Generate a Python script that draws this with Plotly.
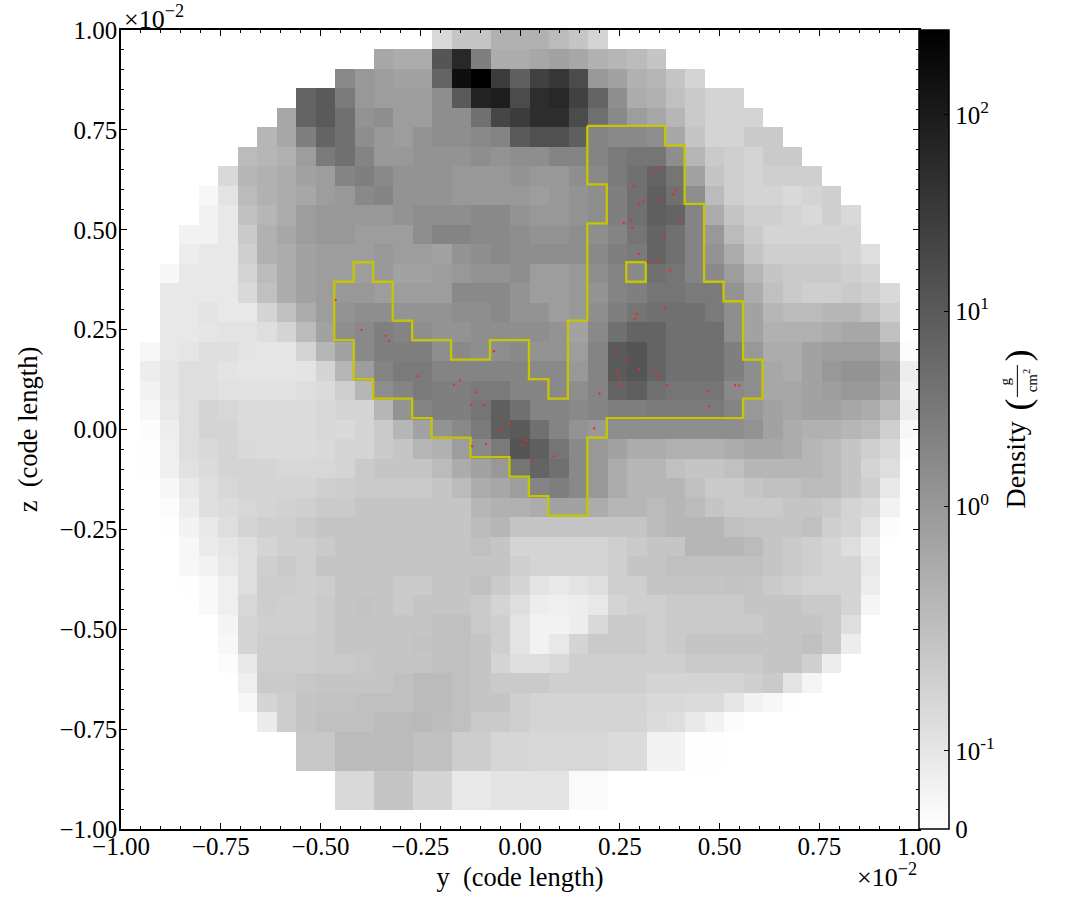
import numpy as np
import plotly.graph_objects as go

# Slice through the cell grid: 41 x 41 cells, row 0 at the top.
n_cells = 41
row_start = [16, 13, 11, 9, 8, 7, 6, 5, 4, 3, 3, 2, 2, 2, 1, 1, 1, 1, 1, 0, 0, 0, 0, 0, 0, 0,
             1, 2, 2, 2, 3, 3, 4, 5, 6, 7, 9, 9, 11, 11]
row_grey = [
    [210, 190, 190, 170, 170, 170, 180, 190, 205],
    [160, 165, 165, 85, 40, 120, 165, 165, 160, 155, 160, 170, 175, 180, 190],
    [130, 145, 150, 155, 155, 100, 15, 0, 60, 95, 65, 55, 75, 145, 155, 170, 175, 190, 205],
    [100, 90, 115, 145, 150, 150, 150, 135, 90, 35, 30, 75, 45, 40, 65, 100, 135, 165, 170, 185, 195, 205, 205],
    [160, 100, 90, 105, 140, 135, 150, 150, 135, 135, 105, 70, 60, 45, 45, 75, 105, 130, 150, 160, 175, 195, 205, 205, 205],
    [175, 160, 120, 100, 105, 135, 145, 150, 140, 135, 135, 130, 125, 90, 80, 80, 95, 125, 130, 130, 135, 160, 190, 205, 205, 195, 195],
    [180, 175, 170, 150, 115, 105, 125, 145, 145, 140, 140, 140, 135, 140, 135, 135, 125, 125, 125, 115, 110, 110, 135, 175, 195, 200, 205, 195, 195],
    [210, 175, 170, 165, 155, 150, 125, 120, 130, 140, 140, 140, 145, 145, 145, 140, 145, 145, 135, 130, 115, 105, 100, 110, 155, 190, 200, 205, 200, 200, 200],
    [240, 220, 180, 170, 165, 160, 150, 145, 130, 125, 140, 140, 140, 145, 145, 145, 145, 150, 145, 140, 135, 120, 105, 95, 105, 135, 180, 200, 205, 205, 210, 205, 200],
    [250, 235, 225, 185, 175, 165, 150, 145, 145, 145, 145, 140, 135, 135, 135, 130, 130, 140, 145, 145, 140, 135, 120, 105, 95, 100, 125, 165, 190, 200, 200, 205, 210, 200, 210],
    [235, 235, 225, 195, 170, 160, 150, 145, 145, 150, 150, 150, 135, 125, 125, 130, 130, 135, 140, 140, 135, 135, 125, 110, 100, 105, 125, 145, 180, 195, 205, 205, 205, 205, 205],
    [252, 230, 225, 225, 200, 170, 165, 155, 150, 150, 150, 145, 150, 150, 155, 140, 135, 130, 135, 135, 135, 135, 130, 120, 115, 100, 105, 125, 140, 165, 190, 200, 200, 200, 200, 205, 215],
    [240, 225, 225, 225, 205, 180, 165, 155, 150, 150, 150, 145, 155, 155, 150, 145, 140, 140, 135, 150, 150, 145, 135, 125, 130, 105, 110, 125, 130, 150, 175, 190, 195, 195, 195, 200, 205],
    [225, 225, 225, 225, 210, 185, 165, 155, 150, 145, 145, 150, 150, 150, 150, 130, 130, 130, 140, 150, 150, 145, 140, 125, 120, 110, 110, 115, 115, 140, 165, 185, 195, 200, 200, 195, 200, 210],
    [250, 225, 225, 220, 225, 225, 205, 185, 165, 150, 140, 135, 135, 140, 140, 140, 135, 135, 130, 140, 140, 150, 145, 135, 120, 110, 105, 105, 105, 115, 135, 155, 175, 180, 180, 175, 175, 185, 200],
    [248, 225, 225, 222, 220, 220, 215, 205, 180, 155, 135, 130, 120, 125, 135, 140, 140, 135, 135, 135, 135, 140, 155, 130, 105, 100, 100, 105, 105, 105, 135, 155, 170, 170, 170, 165, 160, 160, 185],
    [240, 225, 222, 215, 215, 220, 222, 222, 205, 175, 155, 130, 120, 120, 120, 135, 130, 135, 135, 130, 140, 140, 150, 125, 90, 85, 100, 105, 105, 105, 120, 145, 165, 165, 155, 150, 150, 150, 165, 245],
    [230, 222, 215, 215, 220, 222, 222, 222, 220, 205, 175, 150, 125, 115, 115, 125, 125, 125, 125, 125, 130, 130, 145, 125, 90, 85, 100, 105, 105, 105, 120, 135, 160, 165, 155, 145, 140, 140, 155, 230],
    [235, 222, 215, 215, 218, 218, 218, 218, 215, 212, 200, 175, 135, 125, 115, 120, 120, 115, 115, 125, 125, 130, 135, 125, 100, 95, 105, 110, 110, 110, 130, 135, 160, 160, 155, 150, 145, 145, 160, 235],
    [252, 240, 225, 215, 205, 208, 212, 212, 212, 212, 208, 205, 205, 175, 140, 125, 120, 120, 110, 95, 105, 125, 125, 130, 125, 120, 120, 115, 115, 115, 115, 125, 145, 155, 160, 155, 155, 160, 165, 180, 230],
    [252, 245, 230, 215, 205, 205, 212, 212, 212, 212, 208, 210, 205, 195, 175, 155, 140, 130, 115, 95, 90, 105, 125, 140, 145, 135, 135, 135, 135, 135, 135, 135, 140, 155, 165, 170, 170, 175, 180, 200, 240],
    [252, 247, 232, 215, 210, 205, 210, 212, 212, 212, 210, 205, 205, 195, 190, 175, 170, 150, 130, 115, 85, 95, 110, 130, 145, 155, 165, 165, 170, 170, 170, 165, 160, 160, 165, 175, 180, 190, 200, 210, 245],
    [252, 247, 232, 218, 212, 205, 205, 205, 208, 208, 208, 205, 195, 190, 190, 190, 180, 165, 155, 145, 110, 100, 105, 130, 145, 165, 175, 175, 185, 190, 190, 185, 175, 175, 175, 175, 180, 190, 205, 215, 252],
    [255, 250, 240, 225, 215, 208, 205, 205, 205, 205, 200, 198, 195, 195, 195, 195, 190, 180, 165, 160, 150, 125, 120, 130, 145, 165, 175, 175, 175, 185, 195, 195, 190, 185, 185, 180, 180, 190, 200, 225, 252],
    [255, 252, 245, 230, 215, 212, 208, 205, 202, 200, 195, 195, 190, 190, 190, 190, 190, 190, 175, 170, 170, 165, 155, 155, 165, 175, 175, 180, 175, 180, 190, 195, 195, 195, 190, 190, 195, 205, 210, 235, 253],
    [255, 253, 247, 235, 225, 215, 205, 200, 200, 195, 190, 190, 190, 190, 190, 190, 190, 190, 180, 175, 190, 190, 190, 190, 190, 190, 190, 180, 175, 175, 175, 185, 190, 190, 190, 185, 200, 205, 220, 245, 254],
    [254, 250, 240, 228, 222, 215, 205, 200, 200, 195, 190, 190, 190, 190, 190, 190, 190, 185, 190, 205, 205, 205, 205, 205, 200, 195, 190, 190, 175, 175, 175, 180, 190, 195, 200, 205, 215, 230, 252],
    [252, 240, 235, 225, 215, 200, 195, 200, 190, 190, 190, 190, 190, 190, 190, 190, 190, 190, 200, 205, 205, 205, 205, 200, 190, 190, 185, 185, 185, 185, 185, 190, 195, 200, 205, 205, 225, 250],
    [252, 247, 242, 232, 215, 198, 198, 200, 198, 190, 190, 190, 195, 195, 190, 190, 185, 195, 205, 220, 225, 220, 215, 200, 200, 190, 190, 190, 190, 188, 190, 195, 200, 205, 205, 205, 230],
    [254, 250, 242, 232, 208, 198, 200, 200, 195, 190, 188, 190, 195, 190, 190, 190, 195, 205, 215, 230, 232, 230, 225, 205, 200, 200, 195, 195, 195, 195, 190, 190, 190, 195, 195, 205, 238],
    [252, 250, 237, 205, 200, 200, 200, 195, 190, 190, 190, 190, 190, 185, 185, 195, 200, 220, 235, 235, 230, 210, 195, 195, 200, 195, 195, 195, 195, 195, 190, 190, 190, 195, 215],
    [253, 250, 240, 205, 198, 198, 198, 195, 190, 190, 190, 190, 188, 185, 185, 190, 200, 220, 235, 225, 205, 195, 195, 195, 200, 195, 190, 190, 190, 190, 190, 190, 185, 195, 230],
    [252, 245, 225, 198, 198, 198, 195, 195, 192, 190, 190, 190, 185, 185, 190, 205, 215, 215, 210, 200, 200, 200, 200, 200, 200, 195, 195, 195, 195, 190, 190, 200, 230],
    [250, 232, 195, 195, 192, 190, 190, 190, 190, 185, 180, 180, 185, 190, 195, 195, 195, 200, 200, 200, 200, 200, 205, 205, 205, 205, 205, 200, 195, 220, 238],
    [240, 205, 198, 190, 188, 188, 185, 185, 185, 180, 180, 185, 190, 190, 200, 205, 205, 205, 205, 205, 205, 210, 210, 212, 212, 222, 235, 240, 247],
    [228, 198, 190, 185, 185, 185, 180, 180, 178, 182, 185, 195, 195, 200, 205, 205, 205, 205, 205, 205, 212, 215, 225, 235, 245, 248, 250],
    [192, 192, 180, 180, 180, 180, 185, 185, 198, 198, 207, 207, 208, 208, 208, 208, 212, 212, 235, 235, 247, 247, 252, 252],
    [192, 192, 180, 180, 180, 180, 185, 185, 198, 198, 207, 207, 208, 208, 208, 208, 212, 212, 235, 235, 247, 247, 252, 252],
    [210, 210, 190, 190, 205, 205, 225, 225, 221, 221, 220, 220, 243, 243, 248, 248, 253, 253],
    [210, 210, 190, 190, 205, 205, 225, 225, 221, 221, 220, 220, 243, 243, 248, 248, 253, 253],
]

# Clump outline: filled column spans (first, last) per row
clump_spans = {
    5: [(24, 27)], 6: [(24, 28)], 7: [(24, 28)], 8: [(25, 28)], 9: [(25, 29)],
    10: [(24, 29)], 11: [(24, 29)], 12: [(12, 12), (24, 25), (27, 29)],
    13: [(11, 13), (24, 30)], 14: [(11, 13), (24, 31)],
    15: [(11, 14), (23, 31)], 16: [(12, 16), (19, 20), (23, 31)],
    17: [(12, 20), (23, 32)], 18: [(13, 21), (23, 32)], 19: [(15, 31)],
    20: [(16, 24)], 21: [(18, 23)], 22: [(20, 23)], 23: [(21, 23)], 24: [(22, 23)],
}

# Particles, in units of 1e-2 code length
particle_y = [0.349, 0.334, 0.284, 0.390, 0.384, 0.352, 0.309, 0.298, 0.278, 0.405, 0.260, 0.281,
              0.363, 0.298, 0.322, 0.342, 0.377, -0.462, -0.397, -0.337, -0.328, -0.065, -0.257,
              -0.150, -0.165, -0.110, -0.123, -0.089, -0.026, -0.048, -0.120, -0.085, 0.363, 0.293,
              0.287, 0.244, 0.268, 0.244, 0.298, 0.341, 0.348, 0.251, 0.251, 0.368, 0.199, 0.471,
              0.539, 0.549, 0.473, 0.186, 0.006, 0.016, 0.031, 0.086]
particle_z = [0.657, 0.647, 0.609, 0.599, 0.588, 0.574, 0.570, 0.566, 0.524, 0.527, 0.517, 0.505,
              0.485, 0.440, 0.423, 0.423, 0.398, 0.324, 0.249, 0.235, 0.222, 0.196, 0.133,
              0.123, 0.112, 0.093, 0.062, 0.061, 0.014, -0.002, -0.042, -0.037, 0.306, 0.289,
              0.277, 0.194, 0.174, 0.147, 0.152, 0.148, 0.132, 0.128, 0.112, 0.111, 0.090, 0.095,
              0.111, 0.110, 0.058, 0.003, -0.038, -0.028, -0.076, -0.067]

# Colour bar ticks, positions on the 0-255 shade scale (symlog in the original)
cbar_pos = [0, 24.9, 103, 165.3, 227.9]
cbar_text = ["0", "10<sup>-1</sup>", "10<sup>0</sup>", "10<sup>1</sup>", "10<sup>2</sup>"]

FONT = "Liberation Serif"
WIDTH, HEIGHT = 1085, 919
LEFT, RIGHT, TOP, BOTTOM = 120.5, 919.5, 30, 829
GREY_BIAS = 7  # my readings of the mid greys came out a little dark

# Shade grid
shade = np.zeros((n_cells, n_cells))
for r, (start, greys) in enumerate(zip(row_start, row_grey)):
    greys = np.array(greys)
    greys = np.minimum(greys + GREY_BIAS * (greys > 100), 255)
    shade[r, start:start + len(greys)] = 255 - greys

cell = 2 / n_cells
centres_x = -1 + (np.arange(n_cells) + 0.5) * cell
centres_y = 1 - (np.arange(n_cells) + 0.5) * cell

# Trace the clump mask into closed outlines
mask = np.zeros((n_cells + 2, n_cells + 2), dtype=bool)
for r, spans in clump_spans.items():
    for first, last in spans:
        mask[r + 1, first + 1:last + 2] = True

edges = {}
for r in range(1, n_cells + 1):
    for c in range(1, n_cells + 1):
        if not mask[r, c]:
            continue
        if not mask[r - 1, c]:
            edges.setdefault((c - 1, r - 1), []).append((c, r - 1))
        if not mask[r, c + 1]:
            edges.setdefault((c, r - 1), []).append((c, r))
        if not mask[r + 1, c]:
            edges.setdefault((c, r), []).append((c - 1, r))
        if not mask[r, c - 1]:
            edges.setdefault((c - 1, r), []).append((c - 1, r - 1))

# the contour sits a pixel or two off the cell edges in the original
nudge_x, nudge_y = -0.002, 0.004
outline_x, outline_y = [], []
while edges:
    start = next(iter(edges))
    point = start
    while True:
        outline_x.append(-1 + point[0] * cell + nudge_x)
        outline_y.append(1 - point[1] * cell + nudge_y)
        ends = edges[point]
        following = ends.pop()
        if not ends:
            del edges[point]
        point = following
        if point == start:
            break
    outline_x.extend([-1 + start[0] * cell + nudge_x, None])
    outline_y.extend([1 - start[1] * cell + nudge_y, None])

fig = go.Figure()
fig.add_trace(go.Heatmap(
    x=centres_x,
    y=centres_y,
    z=shade,
    zmin=0,
    zmax=255,
    colorscale=[[0, "#ffffff"], [1, "#000000"]],
    hoverinfo="skip",
    colorbar=dict(
        thickness=30,
        thicknessmode="pixels",
        len=1,
        lenmode="fraction",
        y=0,
        yanchor="bottom",
        x=1.0,
        xanchor="left",
        xpad=0,
        ypad=0,
        outlinewidth=1.5,
        outlinecolor="black",
        ticks="inside",
        ticklen=5,
        tickwidth=1,
        tickcolor="black",
        tickmode="array",
        tickvals=cbar_pos,
        ticktext=cbar_text,
        tickfont=dict(family=FONT, size=25, color="black"),
    ),
))
fig.add_trace(go.Scatter(
    x=outline_x,
    y=outline_y,
    mode="lines",
    line=dict(color="#c6c600", width=2.3),
    hoverinfo="skip",
    showlegend=False,
))
fig.add_trace(go.Scatter(
    x=particle_y,
    y=particle_z,
    mode="markers",
    marker=dict(color="#ff2020", size=2, symbol="square"),
    hoverinfo="skip",
    showlegend=False,
))

axis_style = dict(
    range=[-1, 1],
    tickmode="array",
    tickvals=[-1, -0.75, -0.5, -0.25, 0, 0.25, 0.5, 0.75, 1],
    tickformat=".2f",
    ticks="inside",
    ticklen=6,
    tickwidth=1,
    tickcolor="black",
    minor=dict(ticks="inside", dtick=0.05, tick0=0, ticklen=3, tickwidth=1, tickcolor="black"),
    showgrid=False,
    zeroline=False,
    showline=True,
    mirror="allticks",
    linecolor="black",
    linewidth=1.5,
    tickfont=dict(family=FONT, size=25, color="black"),
)

fig.update_layout(
    width=WIDTH,
    height=HEIGHT,
    margin=dict(l=LEFT, r=WIDTH - RIGHT, t=TOP, b=HEIGHT - BOTTOM, pad=0),
    paper_bgcolor="white",
    plot_bgcolor="white",
    font=dict(family=FONT, color="black"),
    xaxis=dict(axis_style, ticklabelstandoff=-6,
               title=dict(text="y\u00a0\u00a0(code length)", font=dict(size=26.5), standoff=9)),
    yaxis=dict(axis_style, ticklabelstandoff=-3,
               title=dict(text="z\u00a0\u00a0(code length)", font=dict(size=26.5), standoff=14)),
)


def paper_x(px):
    return (px - LEFT) / (RIGHT - LEFT)


def paper_y(py):
    return (BOTTOM - py) / (BOTTOM - TOP)


def add_text(text, px, py, size, angle=0):
    fig.add_annotation(
        text=text, x=paper_x(px), y=paper_y(py), xref="paper", yref="paper",
        showarrow=False, textangle=angle, xanchor="center", yanchor="middle",
        font=dict(family=FONT, size=size, color="black"),
    )


# Offset text and the pieces of the colour bar title
add_text("\u00d710<sup>\u22122</sup>", 154, 17, 26)
add_text("\u00d710<sup>\u22122</sup>", 887, 875, 26)
add_text("Density", 1016, 465, 28, -90)
add_text("(", 1019, 404, 36, -90)
add_text(")", 1019, 355, 36, -90)
add_text("g", 1006, 381, 15, -90)
add_text("cm<sup>2</sup>", 1031, 380, 15, -90)
fig.add_shape(type="line", xref="paper", yref="paper",
              x0=paper_x(1018), x1=paper_x(1018), y0=paper_y(365), y1=paper_y(397),
              line=dict(color="black", width=1))

# Page default body margin would push the figure 8px in
fig.write_html("out.html", config=dict(displayModeBar=False),
               post_script="document.body.style.margin='0';document.body.style.overflow='hidden';")
